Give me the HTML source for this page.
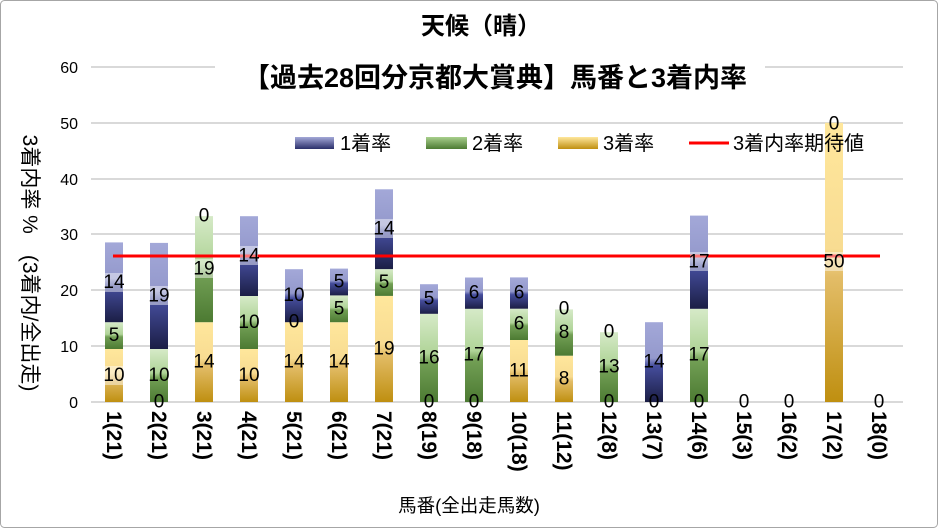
<!DOCTYPE html>
<html><head><meta charset="utf-8"><style>
html,body{margin:0;padding:0;background:#fff}
svg{display:block;font-family:"Liberation Sans","Noto Sans CJK JP",sans-serif}
</style></head><body>
<svg width="938" height="528" viewBox="0 0 938 528" xmlns="http://www.w3.org/2000/svg">
<defs>
<linearGradient id="gb" x1="0" y1="0" x2="0" y2="1"><stop offset="0" stop-color="#a3a8d8"/><stop offset="0.45" stop-color="#9499cc"/><stop offset="0.55" stop-color="#454d9c"/><stop offset="1" stop-color="#1b1e45"/></linearGradient>
<linearGradient id="gn" x1="0" y1="0" x2="0" y2="1"><stop offset="0" stop-color="#d6eac8"/><stop offset="0.45" stop-color="#b0d498"/><stop offset="0.55" stop-color="#729f55"/><stop offset="1" stop-color="#4c7a32"/></linearGradient>
<linearGradient id="gg" x1="0" y1="0" x2="0" y2="1"><stop offset="0" stop-color="#ffe79c"/><stop offset="0.45" stop-color="#f8dc92"/><stop offset="0.55" stop-color="#e3bd68"/><stop offset="1" stop-color="#bf8f10"/></linearGradient>
<linearGradient id="lb" x1="0" y1="0" x2="0" y2="1"><stop offset="0" stop-color="#a3a8d8"/><stop offset="1" stop-color="#2a2f6a"/></linearGradient>
<linearGradient id="ln" x1="0" y1="0" x2="0" y2="1"><stop offset="0" stop-color="#a8cf8c"/><stop offset="1" stop-color="#4c7a32"/></linearGradient>
<linearGradient id="lg" x1="0" y1="0" x2="0" y2="1"><stop offset="0" stop-color="#ffe79c"/><stop offset="1" stop-color="#bf8f10"/></linearGradient>
</defs>
<rect x="0.5" y="0.5" width="937" height="527" fill="#fff" stroke="#a6a6a6" rx="4"/>
<g stroke="#d9d9d9" stroke-width="2">
<line x1="91" y1="402" x2="903" y2="402"/><line x1="91" y1="346" x2="903" y2="346"/>
<line x1="91" y1="290" x2="903" y2="290"/><line x1="91" y1="234" x2="903" y2="234"/>
<line x1="91" y1="179" x2="903" y2="179"/><line x1="91" y1="123" x2="903" y2="123"/>
<line x1="91" y1="67" x2="215" y2="67"/><line x1="765" y1="67" x2="903" y2="67"/>
</g>
<g font-size="16" fill="#000" text-anchor="end">
<text x="78" y="408">0</text><text x="78" y="352">10</text><text x="78" y="296">20</text>
<text x="78" y="240">30</text><text x="78" y="185">40</text><text x="78" y="129">50</text><text x="78" y="73">60</text>
</g>
<g>
<rect x="105" y="349" width="18" height="53" fill="url(#gg)"/><rect x="105" y="322.2" width="18" height="26.8" fill="url(#gn)"/><rect x="105" y="242.4" width="18" height="79.8" fill="url(#gb)"/>
<rect x="150" y="349" width="18" height="53" fill="url(#gn)"/><rect x="150" y="242.9" width="18" height="106.1" fill="url(#gb)"/>
<rect x="195" y="322.2" width="18" height="79.8" fill="url(#gg)"/><rect x="195" y="216.1" width="18" height="106.1" fill="url(#gn)"/>
<rect x="240" y="349" width="18" height="53" fill="url(#gg)"/><rect x="240" y="296" width="18" height="53" fill="url(#gn)"/><rect x="240" y="216.2" width="18" height="79.8" fill="url(#gb)"/>
<rect x="285" y="322.2" width="18" height="79.8" fill="url(#gg)"/><rect x="285" y="269.2" width="18" height="53" fill="url(#gb)"/>
<rect x="330" y="322.2" width="18" height="79.8" fill="url(#gg)"/><rect x="330" y="295.4" width="18" height="26.8" fill="url(#gn)"/><rect x="330" y="268.6" width="18" height="26.8" fill="url(#gb)"/>
<rect x="375" y="295.9" width="18" height="106.1" fill="url(#gg)"/><rect x="375" y="269.1" width="18" height="26.8" fill="url(#gn)"/><rect x="375" y="189.3" width="18" height="79.8" fill="url(#gb)"/>
<rect x="420" y="313.8" width="18" height="88.2" fill="url(#gn)"/><rect x="420" y="284.2" width="18" height="29.6" fill="url(#gb)"/>
<rect x="465" y="308.8" width="18" height="93.2" fill="url(#gn)"/><rect x="465" y="277.5" width="18" height="31.3" fill="url(#gb)"/>
<rect x="510" y="340" width="18" height="62" fill="url(#gg)"/><rect x="510" y="308.7" width="18" height="31.3" fill="url(#gn)"/><rect x="510" y="277.4" width="18" height="31.3" fill="url(#gb)"/>
<rect x="555" y="355.7" width="18" height="46.3" fill="url(#gg)"/><rect x="555" y="309.4" width="18" height="46.3" fill="url(#gn)"/>
<rect x="600" y="332.2" width="18" height="69.8" fill="url(#gn)"/>
<rect x="645" y="322.2" width="18" height="79.8" fill="url(#gb)"/>
<rect x="690" y="308.8" width="18" height="93.2" fill="url(#gn)"/><rect x="690" y="215.6" width="18" height="93.2" fill="url(#gb)"/>
<rect x="825" y="122.8" width="18" height="279.2" fill="url(#gg)"/>
</g>
<line x1="113" y1="256" x2="880" y2="256" stroke="#ff0000" stroke-width="3"/>
<g fill="#fff" opacity="0.45">
<rect x="105" y="366" width="18" height="19"/><rect x="105" y="273" width="18" height="19"/>
<rect x="150" y="286" width="18" height="19"/><rect x="195" y="259" width="18" height="19"/>
<rect x="240" y="246" width="18" height="19"/><rect x="375" y="219" width="18" height="19"/>
<rect x="690" y="252" width="18" height="19"/><rect x="825" y="252" width="18" height="19"/>
</g>
<g font-size="19" fill="#000" text-anchor="middle" dominant-baseline="central">
<text x="114" y="375.5">10</text><text x="114" y="335.6">5</text><text x="114" y="282.3">14</text>
<text x="159" y="402">0</text><text x="159" y="375.5">10</text><text x="159" y="296">19</text>
<text x="204" y="362">14</text><text x="204" y="269">19</text><text x="204" y="216">0</text>
<text x="249" y="375.5">10</text><text x="249" y="322.5">10</text><text x="249" y="256">14</text>
<text x="294" y="362">14</text><text x="294" y="322">0</text><text x="294" y="295.7">10</text>
<text x="339" y="362">14</text><text x="339" y="308.8">5</text><text x="339" y="282">5</text>
<text x="384" y="349">19</text><text x="384" y="282.5">5</text><text x="384" y="229">14</text>
<text x="429" y="402">0</text><text x="429" y="358">16</text><text x="429" y="299">5</text>
<text x="474" y="402">0</text><text x="474" y="355">17</text><text x="474" y="293">6</text>
<text x="519" y="371">11</text><text x="519" y="324">6</text><text x="519" y="293">6</text>
<text x="564" y="379">8</text><text x="564" y="332.5">8</text><text x="564" y="309">0</text>
<text x="609" y="402">0</text><text x="609" y="367">13</text><text x="609" y="332">0</text>
<text x="654" y="402">0</text><text x="654" y="362">14</text>
<text x="699" y="402">0</text><text x="699" y="355">17</text><text x="699" y="262">17</text>
<text x="744" y="402">0</text><text x="789" y="402">0</text>
<text x="834" y="262">50</text><text x="834" y="124">0</text>
<text x="879" y="402">0</text>
</g>
<g font-size="21" font-weight="bold" fill="#000">
<text transform="translate(107,411) rotate(90)">1(21)</text>
<text transform="translate(152,411) rotate(90)">2(21)</text>
<text transform="translate(197,411) rotate(90)">3(21)</text>
<text transform="translate(242,411) rotate(90)">4(21)</text>
<text transform="translate(287,411) rotate(90)">5(21)</text>
<text transform="translate(332,411) rotate(90)">6(21)</text>
<text transform="translate(377,411) rotate(90)">7(21)</text>
<text transform="translate(422,411) rotate(90)">8(19)</text>
<text transform="translate(467,411) rotate(90)">9(18)</text>
<text transform="translate(512,411) rotate(90)">10(18)</text>
<text transform="translate(557,411) rotate(90)">11(12)</text>
<text transform="translate(602,411) rotate(90)">12(8)</text>
<text transform="translate(647,411) rotate(90)">13(7)</text>
<text transform="translate(692,411) rotate(90)">14(6)</text>
<text transform="translate(737,411) rotate(90)">15(3)</text>
<text transform="translate(782,411) rotate(90)">16(2)</text>
<text transform="translate(827,411) rotate(90)">17(2)</text>
<text transform="translate(872,411) rotate(90)">18(0)</text>
</g>
<text x="469" y="512" font-size="18.5" text-anchor="middle">馬番(全出走馬数)</text>
<text transform="translate(23,263) rotate(90)" font-size="21" text-anchor="middle">3着内率 %　(3着内/全出走)</text>
<text x="481" y="34" font-size="24" font-weight="bold" text-anchor="middle">天候（晴）</text>
<text x="495" y="87" font-size="27" font-weight="bold" text-anchor="middle">【過去28回分京都大賞典】馬番と3着内率</text>
<g font-size="20">
<rect x="295" y="137" width="39" height="12" fill="url(#lb)"/><text x="340" y="150">1着率</text>
<rect x="426" y="137" width="41" height="12" fill="url(#ln)"/><text x="472" y="150">2着率</text>
<rect x="558" y="137" width="40" height="12" fill="url(#lg)"/><text x="603" y="150">3着率</text>
<line x1="689" y1="143" x2="729" y2="143" stroke="#ff0000" stroke-width="3"/><text x="733" y="150">3着内率期待値</text>
</g>
</svg>
</body></html>
